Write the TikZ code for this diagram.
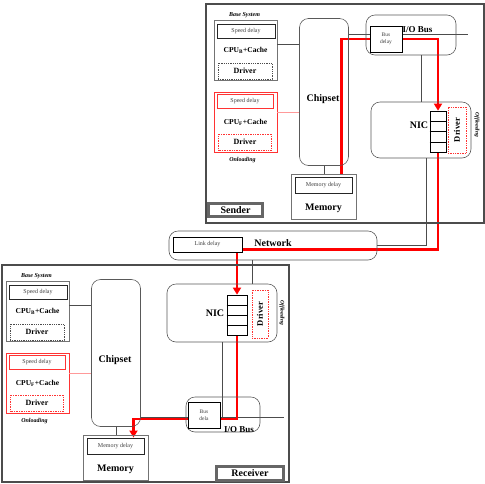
\documentclass[tikz,border=0pt]{standalone}
\usepackage{fontspec}
\setmainfont{Liberation Serif}
\usetikzlibrary{arrows.meta,backgrounds,calc}

\tikzset{
  cornice/.style={draw=black!70, line width=1.2pt, inner sep=0pt},
  targa/.style={draw=black!60, line width=2.2pt, inner sep=0pt, font=\fontsize{10}{12}\selectfont\bfseries},
  grigio/.style={draw=black!55, line width=0.9pt, inner sep=0pt},
  rosso/.style={draw=red!80, line width=0.8pt, inner sep=0pt},
  ritardo/.style={draw=black!85, line width=0.9pt, fill=white, inner sep=0pt, text=black!75, font=\fontsize{6}{7}\selectfont, align=center},
  puntini/.style={draw=black!70, densely dotted, line width=0.8pt, inner sep=0pt},
  puntinirossi/.style={draw=red!80, densely dotted, line width=0.7pt, inner sep=0pt},
  blocco/.style={draw=black!65, line width=0.6pt, rounded corners=9pt, inner sep=0pt},
  testo/.style={font=\fontsize{7.5}{9}\selectfont\bfseries},
  driver/.style={font=\fontsize{8}{9}\selectfont\bfseries},
  grande/.style={font=\fontsize{10}{12}\selectfont\bfseries},
  nota/.style={font=\fontsize{6}{7}\selectfont\bfseries\itshape},
  filo/.style={draw=black!70, line width=0.5pt},
  rossa/.style={draw=red, line width=2.8pt, -{Triangle[length=7pt,width=8pt]}},
  coda/.style={draw=black, fill=white, line width=0.7pt, inner sep=0pt}
}

% parte sinistra di ogni sistema: CPU, chipset, memoria
\newcommand{\bloccoSinistro}{%
  % CPU base
  \node[nota] (base) at (36.5,276) {Base System};
  \node[grigio, minimum width=63pt, minimum height=60pt] (cpuB) at (37.5,311) {};
  \node[ritardo, minimum width=58pt, minimum height=14pt] (velB) at (38,292) {Speed delay};
  \node[testo] (cpuBt) at (37.5,311) {CPU\textsubscript{B}+Cache};
  \node[puntini, driver, minimum width=54pt, minimum height=16pt] (drvB) at (37,332) {Driver};
  % CPU con onloading
  \node[rosso, minimum width=63pt, minimum height=60pt] (cpuF) at (37.5,383) {};
  \node[ritardo, draw=red!80, minimum width=56pt, minimum height=14pt] (velF) at (37,362.5) {Speed delay};
  \node[testo] (cpuFt) at (37.5,383) {CPU\textsubscript{F}+Cache};
  \node[puntinirossi, driver, minimum width=53pt, minimum height=16pt] (drvF) at (37,403) {Driver};
  \node[nota] (onl) at (34.5,421.5) {Onloading};
  % chipset e memoria
  \node[blocco, minimum width=49pt, minimum height=147pt] (chip) at (116,353) {};
  \node[grande] (chipt) at (115,360) {Chipset};
  \node[grigio, minimum width=65pt, minimum height=45pt] (mem) at (115.5,458) {};
  \node[ritardo, minimum width=57pt, minimum height=16pt] (memR) at (115.5,446) {Memory delay};
  \node[grande] (memt) at (115.5,469) {Memory};
  % collegamenti
  \draw[filo] ([yshift=6pt]cpuB.east) -- ([yshift=6pt]cpuB.east -| chip.west);
  \draw[filo, draw=red!40] ([yshift=9.5pt]cpuF.east) -- ([yshift=9.5pt]cpuF.east -| chip.west);
  \draw[filo] (chip.south) -- (chip.south |- mem.north);
}

\begin{document}
\begin{tikzpicture}[x=1pt, y=-1pt]
    \useasboundingbox (0,0) rectangle (485,483);

    % Mittente
    \node[cornice, minimum width=278pt, minimum height=219pt] (Sframe) at (345,113.5) {};
    \begin{scope}[name prefix=S, shift={(208,-261)}]
        \bloccoSinistro
    \end{scope}
    \node[targa, minimum width=54pt, minimum height=13pt] (Stag) at (235.5,210) {Sender};
    \node[blocco, minimum width=90pt, minimum height=40pt] (Sio) at (411,35) {};
    \node[grande, font=\fontsize{9}{10}\selectfont\bfseries] (Siot) at (417.5,30) {I/O Bus};
    \node[ritardo, draw=black, line width=0.8pt, minimum width=32pt, minimum height=26pt, font=\fontsize{5.5}{6.5}\selectfont] (Sbus) at (386,39) {Bus\\delay};
    \node[blocco, minimum width=100pt, minimum height=56pt] (Snic) at (421,130) {};
    \node[grande] (Snict) at (419,125) {NIC};
    \node[coda, minimum width=16pt, minimum height=41pt] (Sq) at (438,131.5) {};
    \node[puntinirossi, minimum width=18pt, minimum height=46pt] (Sdrv) at (457,130) {};
    \node[driver, font=\fontsize{8.5}{9}\selectfont\bfseries, rotate=90] (Sdrvt) at (457,130) {Driver};
    \node[nota, font=\fontsize{5.5}{6}\selectfont\bfseries\itshape, rotate=-90] (Soff) at (477,125) {Offloading};
    \coordinate (Sioend) at (468,34);

    % Rete
    \node[blocco, minimum width=208pt, minimum height=29pt] (Lnet) at (273,245.5) {};
    \node[grande] (Lnett) at (273,243) {Network};
    \node[ritardo, draw=black, line width=0.8pt, minimum width=69pt, minimum height=15pt] (Llink) at (207.5,244.5) {Link delay};

    % Ricevente
    \node[cornice, minimum width=287pt, minimum height=217pt] (Rframe) at (145.5,373.5) {};
    \begin{scope}[name prefix=R]
        \bloccoSinistro
    \end{scope}
    \node[targa, minimum width=67pt, minimum height=14pt] (Rtag) at (250,473.5) {Receiver};
    \node[blocco, minimum width=110pt, minimum height=58pt] (Rnic) at (222,313) {};
    \node[grande] (Rnict) at (215,313) {NIC};
    \node[coda, minimum width=20pt, minimum height=40pt] (Rq) at (237,315) {};
    \node[puntinirossi, minimum width=16pt, minimum height=48pt] (Rdrv) at (260,314) {};
    \node[driver, font=\fontsize{8.5}{9}\selectfont\bfseries, rotate=90] (Rdrvt) at (260,314) {Driver};
    \node[nota, font=\fontsize{5.5}{6}\selectfont\bfseries\itshape, rotate=-90] (Roff) at (282,313) {Offloading};
    \node[blocco, minimum width=74pt, minimum height=35pt] (Rio) at (223,414.5) {};
    \node[ritardo, draw=black, line width=0.8pt, minimum width=32pt, minimum height=26pt, font=\fontsize{5.5}{6.5}\selectfont] (Rbus) at (204,415) {Bus\\dela};
    \node[grande, font=\fontsize{9}{10}\selectfont\bfseries] (Riot) at (239,430) {I/O Bus};
    \coordinate (Rioend) at (284,417);

    % Celle delle code
    \foreach \k in {1,2,3} {
        \draw ($(Sq.north west)!\k/4!(Sq.south west)$) -- ($(Sq.north east)!\k/4!(Sq.south east)$);
        \draw ($(Rq.north west)!\k/4!(Rq.south west)$) -- ($(Rq.north east)!\k/4!(Rq.south east)$);
    }

    \begin{pgfonlayer}{background}
        % Bus e collegamenti
        \draw[filo] (Schip.east |- Sioend) -- (Sioend);
        \draw[filo] (Snic.north |- Sio.south) -- (Snic.north);
        \draw[filo] ([xshift=5pt]Snic.south) |- (Lnet.east);
        \draw[filo] ([xshift=-21pt]Lnet.south) -- ([xshift=-21pt]Lnet.south |- Rnic.north);
        \draw[filo] (Rchip.east |- Rioend) -- (Rioend);
        \draw[filo] (Rnic.south) -- (Rnic.south |- Rioend);
        % Percorso del pacchetto
        \draw[rossa] ([xshift=18pt]Smem.north) |- (Sbus) -| (Sq.north);
        \draw[rossa] (Sq.south) |- ([yshift=3pt]Rq.north |- Llink.south) -- (Rq.north);
        \draw[rossa] (Rq.south) |- ([yshift=-4pt]Rbus.center) -| ([xshift=18pt]RmemR.north);
    \end{pgfonlayer}
\end{tikzpicture}
\end{document}
